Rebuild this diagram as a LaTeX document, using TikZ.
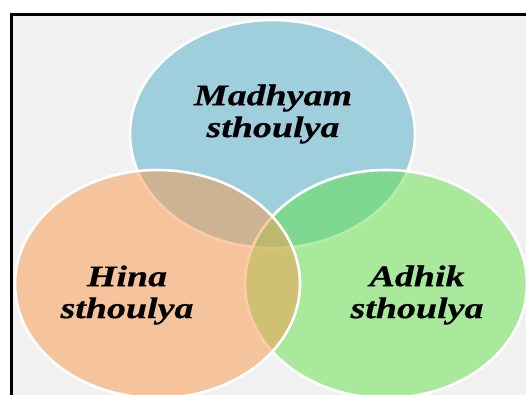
\documentclass[tikz,border=0pt]{standalone}
\usepackage{fontspec}
\newfontfamily\vennfont[FakeStretch=1.27,FakeBold=0.6]{Liberation Serif}
\definecolor{bggray}{RGB}{241,241,241}
\definecolor{vblue}{RGB}{79,173,201}
\definecolor{vgreen}{RGB}{97,227,73}
\definecolor{vorange}{RGB}{249,153,75}
\tikzset{
	venn/.style={fill opacity=0.5, draw=white, line width=2.6bp},
	lbl/.style={font=\vennfont\bfseries\itshape\fontsize{30}{32}\selectfont, align=center, text=black, inner sep=0pt}
}
\begin{document}
\begin{tikzpicture}[x=1bp,y=-1bp]

	\useasboundingbox (0,0) rectangle (526,394);
	\clip (0,0) rectangle (526,394);
	\filldraw[fill=bggray, draw=black, line width=2.5bp] (11.5,14.3) rectangle (560,420);

	\filldraw[venn, fill=vblue]   (272.5,134) ellipse [x radius=142.5, y radius=114];
	\filldraw[venn, fill=vgreen]  (386,284)   ellipse [x radius=141, y radius=114];
	\filldraw[venn, fill=vorange] (157.5,284) ellipse [x radius=142.5, y radius=114];

	\node[lbl] (madhyam) at (273,114) {Madhyam\\sthoulya};
	\node[lbl] (hina)    at (127,295) {Hina\\sthoulya};
	\node[lbl] (adhik)   at (417,295) {Adhik\\sthoulya};

\end{tikzpicture}
\end{document}
